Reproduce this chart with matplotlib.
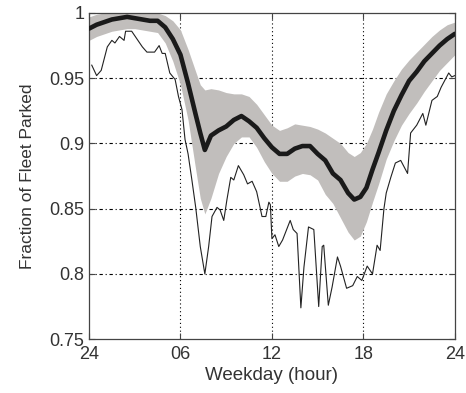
import matplotlib
matplotlib.use("Agg")
import matplotlib.pyplot as plt

plt.rcParams["font.family"] = ["Liberation Sans", "DejaVu Sans"]

# hour of day (0 = midnight "24")
hours = [0, 0.5, 1, 1.5, 2, 2.5, 3, 3.5, 4, 4.5, 5, 5.5, 6, 6.5, 7, 7.3, 7.6,
         8, 8.5, 9, 9.5, 10, 10.5, 11, 11.5, 12, 12.5, 13, 13.5, 14, 14.5, 15,
         15.5, 16, 16.5, 17, 17.4, 17.8, 18.2, 18.6, 19, 19.5, 20, 20.5, 21,
         21.5, 22, 22.5, 23, 23.5, 24]

mean_parked = [0.988, 0.991, 0.993, 0.995, 0.996, 0.997, 0.996, 0.995, 0.994,
               0.994, 0.989, 0.980, 0.968, 0.946, 0.922, 0.908, 0.895, 0.906,
               0.910, 0.913, 0.918, 0.921, 0.917, 0.912, 0.904, 0.897, 0.892,
               0.892, 0.896, 0.898, 0.898, 0.892, 0.887, 0.877, 0.872, 0.862,
               0.857, 0.859, 0.866, 0.880, 0.893, 0.910, 0.925, 0.937, 0.948,
               0.955, 0.963, 0.969, 0.975, 0.980, 0.984]

upper_band = [0.997, 0.999, 1.0, 1.0, 1.0, 1.0, 1.0, 1.0, 1.0, 1.0, 0.998,
              0.994, 0.987, 0.972, 0.955, 0.945, 0.941, 0.942, 0.941, 0.939,
              0.938, 0.938, 0.936, 0.930, 0.922, 0.914, 0.910, 0.912, 0.915,
              0.914, 0.913, 0.911, 0.908, 0.904, 0.900, 0.893, 0.890, 0.893,
              0.900, 0.911, 0.924, 0.938, 0.948, 0.957, 0.964, 0.970, 0.976,
              0.982, 0.987, 0.991, 0.993]

lower_band = [0.979, 0.982, 0.984, 0.986, 0.987, 0.988, 0.988, 0.987, 0.986,
              0.985, 0.977, 0.963, 0.945, 0.918, 0.880, 0.858, 0.846, 0.858,
              0.877, 0.890, 0.900, 0.905, 0.905, 0.897, 0.886, 0.877, 0.871,
              0.871, 0.875, 0.877, 0.876, 0.872, 0.861, 0.854, 0.843, 0.832,
              0.826, 0.829, 0.840, 0.855, 0.869, 0.888, 0.902, 0.914, 0.923,
              0.931, 0.940, 0.948, 0.956, 0.962, 0.968]

# minimum day (thin line)
min_hours = [0.18, 0.5, 0.8, 1.2, 1.5, 1.7, 2.0, 2.3, 2.4, 2.8, 3.5, 3.8, 4.3,
             4.6, 4.8, 5.0, 5.3, 5.65, 5.87, 6.1, 6.3, 6.5, 6.75, 7.0, 7.3, 7.6,
             7.85, 8.07, 8.4, 8.6, 8.84, 9.05, 9.3, 9.5, 9.8, 10.15, 10.4, 10.7,
             11.0, 11.35, 11.6, 11.8, 11.9, 12.0, 12.2, 12.45, 12.7, 12.9, 13.2,
             13.4, 13.65, 13.9, 14.1, 14.4, 14.75, 15.07, 15.3, 15.4, 15.7,
             15.95, 16.3, 16.5, 16.9, 17.3, 17.6, 17.9, 18.25, 18.6, 18.9, 19.1,
             19.35, 19.5, 19.8, 20.1, 20.45, 20.9, 21.1, 21.5, 21.9, 22.1, 22.5,
             22.85, 23.1, 23.6, 23.8, 24.0]
min_parked = [0.960, 0.952, 0.956, 0.974, 0.979, 0.977, 0.982, 0.979, 0.986,
              0.986, 0.974, 0.970, 0.970, 0.975, 0.969, 0.969, 0.954, 0.949,
              0.936, 0.926, 0.903, 0.892, 0.872, 0.851, 0.821, 0.800, 0.821,
              0.844, 0.851, 0.849, 0.841, 0.857, 0.874, 0.872, 0.883, 0.876,
              0.869, 0.871, 0.863, 0.844, 0.844, 0.855, 0.853, 0.827, 0.830,
              0.821, 0.826, 0.832, 0.841, 0.834, 0.831, 0.774, 0.805, 0.836,
              0.834, 0.775, 0.821, 0.822, 0.776, 0.790, 0.813, 0.806, 0.789,
              0.791, 0.798, 0.795, 0.806, 0.800, 0.822, 0.818, 0.850, 0.862,
              0.874, 0.885, 0.887, 0.877, 0.908, 0.914, 0.923, 0.914, 0.933,
              0.936, 0.943, 0.954, 0.951, 0.952]

x_ticks = [0, 6, 12, 18, 24]
x_labels = ["24", "06", "12", "18", "24"]
y_ticks = [0.75, 0.8, 0.85, 0.9, 0.95, 1.0]
y_labels = ["0.75", "0.8", "0.85", "0.9", "0.95", "1"]

fig = plt.figure(figsize=(4.66, 3.93), dpi=100)
ax = fig.add_axes([0.191, 0.137, 0.785, 0.830])

ax.fill_between(hours, lower_band, upper_band, color="#c1bebc", lw=0, zorder=1)
ax.plot(min_hours, min_parked, color="#222222", lw=0.8, zorder=2)
ax.plot(hours, mean_parked, color="#1a1a1a", lw=3.3, zorder=3,
        solid_capstyle="round", solid_joinstyle="round")

ax.set_xlim(0, 24)
ax.set_ylim(0.75, 1.0)
ax.set_xticks(x_ticks)
ax.set_xticklabels(x_labels)
ax.set_yticks(y_ticks)
ax.set_yticklabels(y_labels)

for y in y_ticks[1:-1]:
    ax.axhline(y, color="black", lw=0.8, ls=(0, (3, 2.5, 1, 2.5)), zorder=0)
for x in x_ticks[1:-1]:
    ax.axvline(x, color="black", lw=0.8, ls=(0, (1, 2.5)), zorder=0)

ax.tick_params(direction="in", length=4, width=0.8, colors="#444444",
               labelcolor="#333333", labelsize=13, top=True, right=True)
ax.tick_params(axis="x", pad=5)
for s in ax.spines.values():
    s.set_color("#444444")
    s.set_linewidth(0.9)

ax.set_xlabel("Weekday (hour)", fontsize=13.5, color="#333333", labelpad=3)
ax.set_ylabel("Fraction of Fleet Parked", fontsize=12.5, color="#333333",
              labelpad=10)

fig.savefig("out.png", dpi=100)
